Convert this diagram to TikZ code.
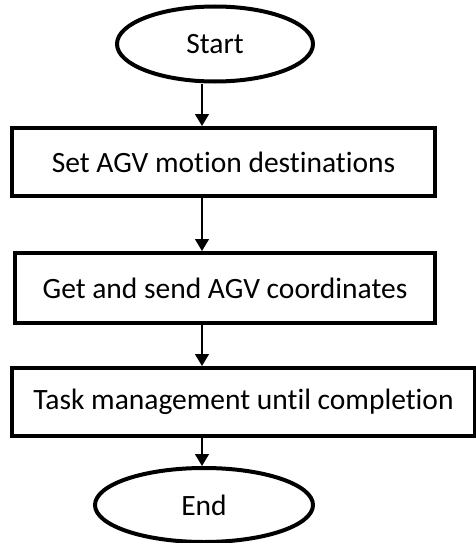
\documentclass[tikz,border=0pt]{standalone}
\usepackage{fontspec}
\setmainfont{Carlito}[Ligatures=CommonOff]
\usepackage{tikz}
\usetikzlibrary{shapes.geometric, arrows.meta}

\begin{document}
\begin{tikzpicture}[x=1pt, y=-1pt,
    term/.style={ellipse, draw, line width=4pt, inner sep=0pt,
      font=\fontsize{29.5}{34}\selectfont},
    proc/.style={rectangle, draw, line width=4pt, inner sep=0pt,
      font=\fontsize{29.5}{34}\selectfont},
    flow/.style={line width=1.5pt, -{Triangle[width=14pt,length=12pt]}}]
        \useasboundingbox (0,0) rectangle (476,543);

        % Terminals and steps
        \node[term, minimum width=196pt, minimum height=75pt] (start) at (215,44) {Start};
        \node[proc, minimum width=423pt, minimum height=68pt] (set) at (223.5,162) {Set AGV motion destinations};
        \node[proc, minimum width=420pt, minimum height=70pt] (get) at (225,288) {Get and send AGV coordinates};
        \node[proc, minimum width=463pt, minimum height=68pt] (task) at (243.5,402) {Task management until completion};
        \node[term, minimum width=218pt, minimum height=74pt] (end) at (204,505) {End};

        % Arrows all run down one line
        \coordinate (axis) at (202,0);
        \draw[flow] (start.south -| axis) -- (set.north -| axis);
        \draw[flow] (set.south -| axis) -- (get.north -| axis);
        \draw[flow] (get.south -| axis) -- (task.north -| axis);
        \draw[flow] (task.south -| axis) -- (end.north -| axis);
    \end{tikzpicture}
\end{document}
